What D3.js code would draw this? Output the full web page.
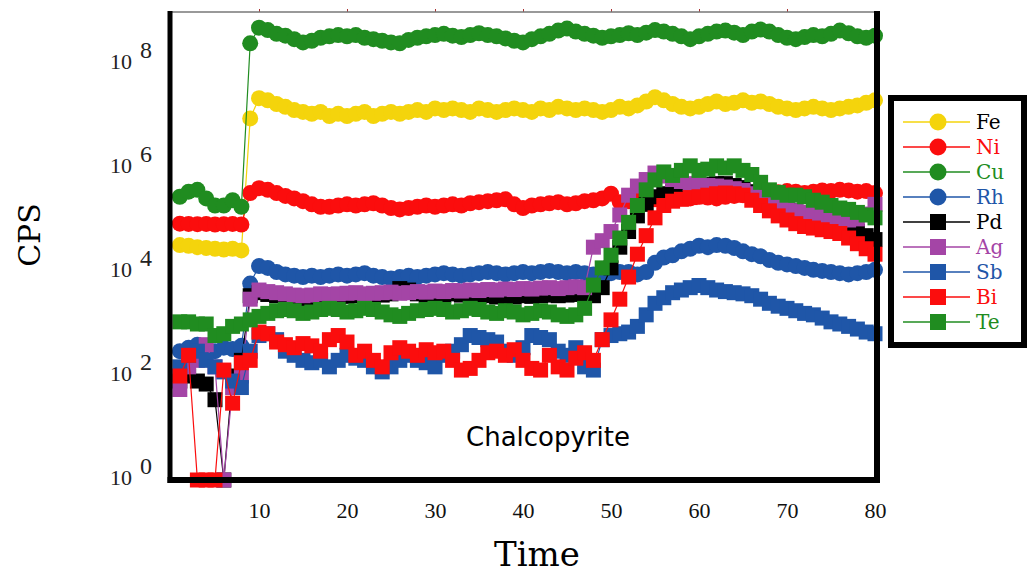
<!DOCTYPE html>
<html>
<head>
<meta charset="utf-8">
<script src="https://cdn.jsdelivr.net/npm/d3@7"></script>
<style>
  body { margin: 0; background: #fff; }
  svg { display: block; }
</style>
</head>
<body>
<div id="chart"></div>
<script>
// time axis (one sample per unit)
const time = [1,2,3,4,5,6,7,8,9,10,11,12,13,14,15,16,17,18,19,20,
  21,22,23,24,25,26,27,28,29,30,31,32,33,34,35,36,37,38,39,40,
  41,42,43,44,45,46,47,48,49,50,51,52,53,54,55,56,57,58,59,60,
  61,62,63,64,65,66,67,68,69,70,71,72,73,74,75,76,77,78,79,80];

// counts per second (zero counts drawn on the 10^0 line)
const fe = [3.3e4,3.2e4,3.0e4,2.9e4,2.8e4,2.7e4,2.8e4,2.6e4,
  9e6,2.2e7,2.0e7,1.7e7,1.5e7,1.3e7,1.2e7,1.1e7,1.2e7,1.0e7,
  1.1e7,1.0e7,1.1e7,1.2e7,1.0e7,1.1e7,1.2e7,1.1e7,1.2e7,1.3e7,
  1.2e7,1.4e7,1.3e7,1.4e7,1.3e7,1.2e7,1.4e7,1.3e7,1.2e7,1.3e7,
  1.4e7,1.3e7,1.2e7,1.4e7,1.3e7,1.5e7,1.4e7,1.3e7,1.4e7,1.3e7,
  1.2e7,1.3e7,1.5e7,1.4e7,1.6e7,1.9e7,2.3e7,2.0e7,1.7e7,1.5e7,
  1.4e7,1.5e7,1.7e7,1.9e7,1.7e7,1.8e7,2.0e7,1.8e7,1.9e7,1.7e7,
  1.5e7,1.4e7,1.3e7,1.4e7,1.5e7,1.4e7,1.3e7,1.4e7,1.5e7,1.6e7,
  1.8e7,2.0e7];
const ni = [8.5e4,8.4e4,8.3e4,8.4e4,8.2e4,8.3e4,8.4e4,8.2e4,
  3.3e5,4.1e5,3.8e5,3.3e5,2.9e5,2.6e5,2.3e5,2.0e5,1.8e5,1.8e5,
  1.9e5,2.0e5,1.9e5,2.0e5,2.1e5,1.9e5,1.7e5,1.6e5,1.7e5,1.8e5,
  1.9e5,1.8e5,1.9e5,2.0e5,1.9e5,2.1e5,2.2e5,2.3e5,2.4e5,2.5e5,
  2.0e5,1.7e5,1.9e5,2.0e5,2.1e5,2.2e5,2.0e5,2.1e5,2.3e5,2.4e5,
  2.6e5,3.2e5,2.2e5,2.3e5,2.5e5,2.6e5,2.5e5,2.4e5,2.6e5,2.7e5,
  2.6e5,2.8e5,2.7e5,2.6e5,2.8e5,2.9e5,3.0e5,2.8e5,3.0e5,3.2e5,
  3.4e5,3.6e5,3.5e5,3.3e5,3.5e5,3.7e5,3.6e5,3.8e5,3.7e5,3.5e5,
  3.6e5,3.3e5];
const cu = [2.8e5,3.5e5,3.8e5,2.6e5,1.9e5,1.9e5,2.4e5,1.8e5,
  2.5e8,5.0e8,4.5e8,3.8e8,3.5e8,3.0e8,2.6e8,2.8e8,3.2e8,3.4e8,
  3.6e8,3.4e8,3.6e8,3.2e8,3.0e8,2.8e8,2.6e8,2.5e8,2.9e8,3.2e8,
  3.4e8,3.6e8,3.8e8,3.5e8,3.3e8,3.6e8,3.9e8,3.6e8,3.4e8,3.1e8,
  2.8e8,2.6e8,3.0e8,3.4e8,3.8e8,4.4e8,4.8e8,4.2e8,3.8e8,3.5e8,
  3.2e8,3.4e8,3.6e8,3.9e8,3.6e8,4.0e8,4.5e8,4.2e8,3.8e8,3.4e8,
  3.0e8,3.4e8,3.8e8,4.2e8,4.4e8,4.0e8,3.6e8,4.2e8,4.6e8,4.2e8,
  3.6e8,3.2e8,3.0e8,3.3e8,3.6e8,3.4e8,3.8e8,4.4e8,3.9e8,3.4e8,
  3.2e8,3.5e8];
const rh = [300,350,400,320,300,350,330,380,
  6e3,1.3e4,1.2e4,1.0e4,9e3,8.5e3,8e3,8.5e3,8e3,8.5e3,
  9e3,8.5e3,9e3,9.5e3,8.5e3,8e3,7.5e3,8e3,8.5e3,8e3,
  8.5e3,9e3,9.5e3,9e3,8.5e3,9e3,9.5e3,1.0e4,9.5e3,9e3,
  9.5e3,1.0e4,9.5e3,1.0e4,1.05e4,1.0e4,9.5e3,1.0e4,9.5e3,9e3,
  9e3,9.5e3,1.0e4,1.0e4,9e3,1.0e4,1.5e4,1.9e4,2.1e4,2.5e4,
  2.8e4,3.2e4,3.0e4,3.3e4,3.2e4,2.9e4,2.5e4,2.2e4,2.0e4,1.7e4,
  1.5e4,1.4e4,1.3e4,1.2e4,1.1e4,1.05e4,1.0e4,9.5e3,9e3,9.5e3,
  1.0e4,1.1e4];
const pd = [80,100,80,70,35,1,100,200,
  3.5e3,4.0e3,3.7e3,3.5e3,3.3e3,3.2e3,3.1e3,3.2e3,3.3e3,3.2e3,
  3.3e3,3.4e3,3.5e3,3.4e3,3.5e3,3.6e3,3.8e3,4.8e3,4.5e3,3.8e3,
  3.6e3,3.7e3,3.6e3,3.8e3,3.6e3,3.7e3,3.4e3,3.5e3,3.3e3,3.4e3,
  3.3e3,3.5e3,3.4e3,3.5e3,3.6e3,3.5e3,3.6e3,3.7e3,3.6e3,3.5e3,
  5e3,1.2e4,3e4,6e4,1.2e5,2e5,2.8e5,3.2e5,3.5e5,4e5,
  4.3e5,4.5e5,4.8e5,5e5,5e5,4.6e5,4.2e5,3.5e5,2.8e5,2.3e5,
  2e5,1.7e5,1.5e5,1.3e5,1.15e5,1e5,9e4,8e4,7e4,6e4,
  5e4,4.2e4];
const ag = [55,150,200,400,150,1,60,100,
  3.0e3,4.5e3,4.2e3,4.0e3,3.8e3,3.6e3,3.5e3,3.6e3,3.8e3,3.7e3,
  3.8e3,3.9e3,4.0e3,3.8e3,3.9e3,4.0e3,4.1e3,3.9e3,4.0e3,4.2e3,
  4.1e3,4.3e3,4.2e3,4.4e3,4.3e3,4.5e3,4.4e3,4.6e3,4.5e3,4.7e3,
  4.6e3,4.8e3,4.7e3,4.9e3,5.0e3,4.8e3,5.0e3,5.2e3,5.0e3,3.0e4,
  4e4,6e4,1.25e5,3e5,4.5e5,6e5,8e5,7e5,6e5,5.5e5,
  5e5,4.8e5,4.6e5,4.5e5,4.3e5,4e5,3.7e5,3.2e5,2.8e5,2.4e5,
  2e5,1.7e5,1.5e5,1.4e5,1.3e5,1.2e5,1.1e5,1.0e5,1.0e5,1.05e5,
  1.3e5,2e5];
const sb = [150,250,300,200,150,120,80,60,
  300,600,650,500,300,250,200,180,200,150,
  200,250,220,200,150,120,150,200,250,200,
  180,150,250,300,400,600,550,500,450,300,
  250,350,600,550,500,300,250,350,150,130,
  500,600,650,700,900,1.5e3,2.5e3,3.2e3,4e3,4.5e3,
  5e3,5.5e3,5e3,4.5e3,4.2e3,4e3,3.8e3,3.5e3,3e3,2.5e3,
  2.2e3,2e3,1.8e3,1.6e3,1.5e3,1.3e3,1.1e3,1e3,900,800,
  700,650];
const bi = [100,250,1,1,1,130,30,180,
  200,700,650,450,400,350,420,380,300,500,
  600,450,250,300,200,150,280,350,300,250,
  320,280,300,200,130,140,200,280,300,250,
  320,200,140,130,250,150,130,220,280,200,
  500,1.2e3,3e3,8e3,2.2e4,5e4,1.1e5,1.9e5,2.3e5,2.5e5,
  2.7e5,2.8e5,3e5,3.2e5,3.3e5,3.2e5,3e5,2.4e5,1.9e5,1.5e5,
  1.2e5,1e5,8.5e4,7.5e4,7e4,6.5e4,6e4,5.5e4,4.5e4,3.5e4,
  2.8e4,2.2e4];
const te = [1.1e3,1.1e3,1.0e3,1.0e3,600,650,900,1.0e3,
  1.2e3,1.4e3,1.6e3,1.8e3,1.9e3,1.8e3,1.6e3,1.7e3,1.9e3,2.0e3,
  1.9e3,1.7e3,1.8e3,2.0e3,1.9e3,1.7e3,1.5e3,1.4e3,1.6e3,1.8e3,
  1.9e3,2.0e3,1.9e3,1.7e3,1.8e3,2.0e3,1.9e3,1.7e3,1.6e3,1.8e3,
  1.7e3,1.5e3,1.6e3,1.8e3,1.7e3,1.5e3,1.4e3,1.5e3,2.0e3,5.6e3,
  1.2e4,2.1e4,4.5e4,9e4,1.9e5,3.8e5,5.9e5,8.4e5,7.2e5,9e5,
  1.1e6,9e5,9.5e5,1.1e6,1.0e6,1.1e6,9e5,7.5e5,5.3e5,3.8e5,
  3.4e5,3.0e5,3.0e5,2.8e5,2.4e5,2.2e5,1.9e5,1.7e5,1.6e5,1.4e5,
  1.25e5,1.1e5];

const names  = ['Fe', 'Ni', 'Cu', 'Rh', 'Pd', 'Ag', 'Sb', 'Bi', 'Te'];
const values = [fe, ni, cu, rh, pd, ag, sb, bi, te];
const colors = ['#f4d40c', '#fb0d0d', '#208c20', '#1f56a8', '#000000', '#a445a6', '#1f56a8', '#fb0d0d', '#208c20'];
const shapes = ['circle', 'circle', 'circle', 'circle', 'square', 'square', 'square', 'square', 'square'];
const labelColors = ['#000000', '#fb0d0d', '#208c20', '#1f56a8', '#000000', '#a445a6', '#1f56a8', '#fb0d0d', '#208c20'];

const xTicks = [10, 20, 30, 40, 50, 60, 70, 80];
const yTicks = [1, 1e2, 1e4, 1e6, 1e8];
const yTickExp = ['0', '2', '4', '6', '8'];

const W = 1029, H = 573;
const plot = { left: 170, right: 877, top: 12, bottom: 480 };

const series = names.map((name, i) => ({
  name,
  color: colors[i],
  shape: shapes[i],
  points: time.map((t, j) => ({ t, v: values[i][j] }))
}));

const svg = d3.select('#chart').append('svg')
  .attr('width', W)
  .attr('height', H);

const x = d3.scaleLinear().domain([0, 80]).range([171, 875]);
const y = d3.scaleLog().domain([1, 1e9]).range([plot.bottom, plot.top]);

// series: thin line then markers, legend order so Te ends on top
const line = d3.line().x(d => x(d.t)).y(d => y(d.v));
const r = 8, sq = 15;

const groups = svg.append('g').attr('class', 'series')
  .selectAll('g')
  .data(series)
  .join('g')
  .attr('fill', d => d.color)
  .attr('stroke', d => d.color);

groups.append('path')
  .attr('d', d => line(d.points))
  .attr('fill', 'none')
  .attr('stroke-width', 1.2);

groups.each(function (s) {
  const g = d3.select(this);
  if (s.shape === 'circle') {
    g.selectAll('circle')
      .data(s.points)
      .join('circle')
      .attr('cx', d => x(d.t))
      .attr('cy', d => y(d.v))
      .attr('r', r)
      .attr('stroke', 'none');
  } else {
    g.selectAll('rect')
      .data(s.points)
      .join('rect')
      .attr('x', d => x(d.t) - sq / 2)
      .attr('y', d => y(d.v) - sq / 2)
      .attr('width', sq)
      .attr('height', sq)
      .attr('stroke', 'none');
  }
});

// frame: thin top with small ticks, heavy left/right/bottom
const xTop = d3.axisTop(x).tickValues(xTicks.slice(0, 7)).tickSize(3).tickFormat('');
svg.append('g')
  .attr('transform', `translate(0,${plot.top})`)
  .call(xTop)
  .call(g => g.select('.domain').remove())
  .call(g => g.selectAll('line').attr('stroke', '#a33'));
svg.append('line')
  .attr('x1', plot.left).attr('x2', plot.right)
  .attr('y1', plot.top).attr('y2', plot.top)
  .attr('stroke', '#777').attr('stroke-width', 1.5);
svg.append('line')
  .attr('x1', plot.left).attr('x2', plot.left)
  .attr('y1', plot.top - 1).attr('y2', plot.bottom + 3)
  .attr('stroke', '#000').attr('stroke-width', 5);
svg.append('line')
  .attr('x1', plot.right).attr('x2', plot.right)
  .attr('y1', plot.top - 1).attr('y2', plot.bottom + 3)
  .attr('stroke', '#000').attr('stroke-width', 6);
svg.append('line')
  .attr('x1', plot.left - 2.5).attr('x2', plot.right + 3)
  .attr('y1', plot.bottom).attr('y2', plot.bottom)
  .attr('stroke', '#000').attr('stroke-width', 6);

// x axis labels
const xAxis = d3.axisBottom(x).tickValues(xTicks).tickSize(0).tickPadding(22);
svg.append('g')
  .attr('class', 'x-axis')
  .attr('transform', `translate(0,${plot.bottom})`)
  .call(xAxis)
  .call(g => g.select('.domain').remove())
  .call(g => g.selectAll('text')
    .attr('font-family', 'Liberation Serif, serif')
    .attr('font-size', 22)
    .attr('fill', '#111'));

// y axis labels as 10 with a raised exponent
const yAxis = d3.axisLeft(y).tickValues(yTicks).tickSize(0).tickFormat('');
svg.append('g')
  .attr('class', 'y-axis')
  .attr('transform', `translate(${plot.left},0)`)
  .call(yAxis)
  .call(g => g.select('.domain').remove())
  .call(g => g.selectAll('.tick text').each(function (d, i) {
    const t = d3.select(this)
      .attr('x', -18)
      .attr('dy', null)
      .attr('y', 4)
      .attr('text-anchor', 'end')
      .attr('font-family', 'Liberation Serif, serif')
      .attr('font-size', 22)
      .attr('fill', '#222');
    t.append('tspan').text('10');
    t.append('tspan').attr('dx', 8).attr('dy', -11).attr('font-size', 24).text(yTickExp[i]);
  }));

// axis titles
svg.append('text')
  .attr('x', 537).attr('y', 566)
  .attr('text-anchor', 'middle')
  .attr('font-family', 'DejaVu Serif, serif')
  .attr('font-size', 34)
  .text('Time');

svg.append('text')
  .attr('transform', 'translate(40,235) rotate(-90)')
  .attr('text-anchor', 'middle')
  .attr('font-family', 'DejaVu Serif, serif')
  .attr('font-size', 30)
  .text('CPS');

svg.append('text')
  .attr('x', 548).attr('y', 446)
  .attr('text-anchor', 'middle')
  .attr('font-family', 'DejaVu Sans, sans-serif')
  .attr('font-size', 26)
  .text('Chalcopyrite');

// legend
const legend = svg.append('g').attr('class', 'legend');
legend.append('rect')
  .attr('x', 891).attr('y', 98)
  .attr('width', 133).attr('height', 247)
  .attr('fill', '#fff')
  .attr('stroke', '#000').attr('stroke-width', 6);

const rowH = 25;
const items = legend.selectAll('.legend-item')
  .data(series)
  .join('g')
  .attr('class', 'legend-item')
  .attr('transform', (d, i) => `translate(0,${122 + i * rowH})`);

items.append('line')
  .attr('x1', 903).attr('x2', 970)
  .attr('stroke', d => d.color).attr('stroke-width', 1.3);
items.filter(d => d.shape === 'circle').append('circle')
  .attr('cx', 938).attr('r', 8.5)
  .attr('fill', d => d.color);
items.filter(d => d.shape === 'square').append('rect')
  .attr('x', 938 - 8).attr('y', -8)
  .attr('width', 16).attr('height', 16)
  .attr('fill', d => d.color);
items.append('text')
  .attr('x', 976).attr('y', 7)
  .attr('font-family', 'DejaVu Serif, serif')
  .attr('font-size', 20)
  .attr('fill', (d, i) => labelColors[i])
  .text(d => d.name);
</script>
</body>
</html>
